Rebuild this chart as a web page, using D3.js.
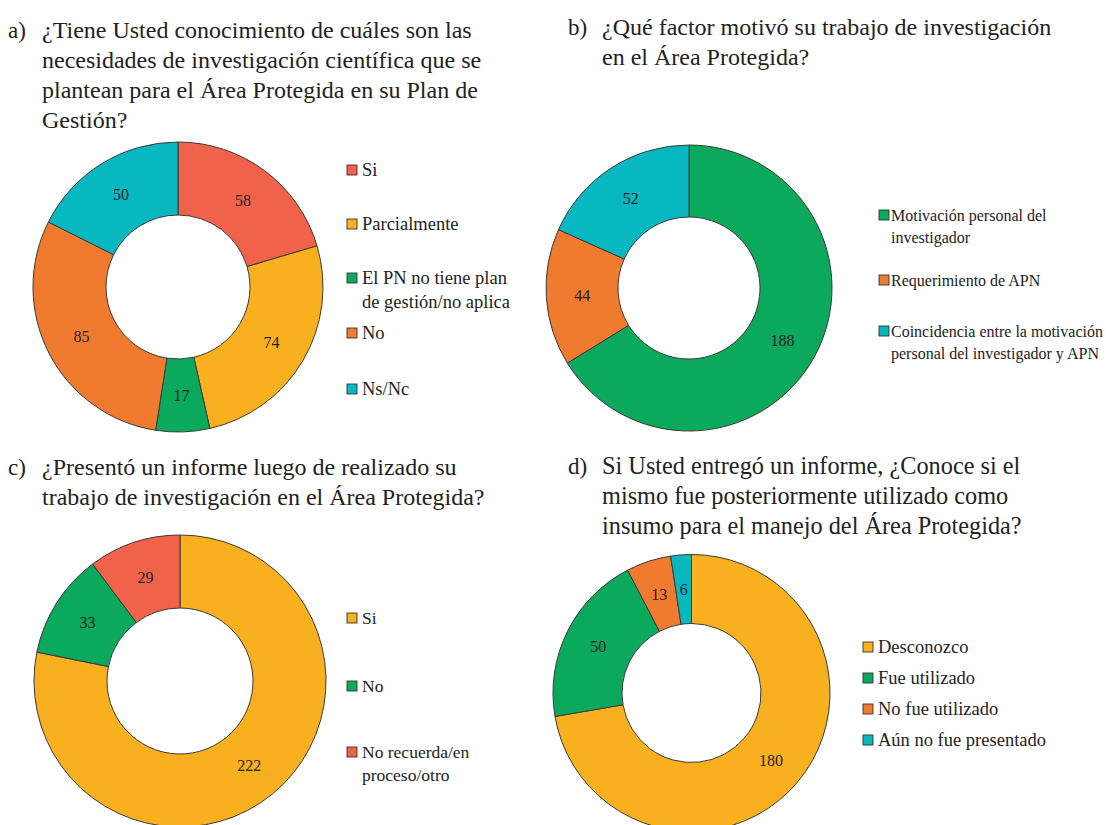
<!DOCTYPE html>
<html>
<head>
<meta charset="utf-8">
<script src="https://cdn.jsdelivr.net/npm/d3@7"></script>
<style>
  body { margin: 0; background: #fff; }
</style>
</head>
<body>
<div id="chart"></div>
<script>
// data
const catsA = ["Si", "Parcialmente", "El PN no tiene plan\nde gestión/no aplica", "No", "Ns/Nc"];
const valsA = [58, 74, 17, 85, 50];
const catsB = ["Motivación personal del\ninvestigador", "Requerimiento de APN", "Coincidencia entre la motivación\npersonal del investigador y APN"];
const valsB = [188, 44, 52];
const catsC = ["Si", "No", "No recuerda/en\nproceso/otro"];
const valsC = [222, 33, 29];
const catsD = ["Desconozco", "Fue utilizado", "No fue utilizado", "Aún no fue presentado"];
const valsD = [180, 50, 13, 6];

const titleA = ["¿Tiene Usted conocimiento de cuáles son las", "necesidades de investigación científica que se", "plantean para el Área Protegida en su Plan de", "Gestión?"];
const titleB = ["¿Qué factor motivó su trabajo de investigación", "en el Área Protegida?"];
const titleC = ["¿Presentó un informe luego de realizado su", "trabajo de investigación en el Área Protegida?"];
const titleD = ["Si Usted entregó un informe, ¿Conoce si el", "mismo fue posteriormente utilizado como", "insumo para el manejo del Área Protegida?"];

// colours
const red = "#f0624a", yellow = "#f9b01e", green = "#0aa95b", orange = "#f07b2e", cyan = "#08b8c0";
const serif = "'Liberation Serif', Tinos, 'Times New Roman', 'DejaVu Serif', serif";

const W = 1106, H = 825;
const svg = d3.select("#chart").append("svg")
    .attr("width", W)
    .attr("height", H)
    .attr("font-family", serif)
    .style("font-family", serif);

// layout of each panel (legend rows given as y positions)
const panels = [
    { letter: "a)", title: titleA, tx: 8, ty: 38, tsize: 24, cats: catsA, vals: valsA, colors: [red, yellow, green, orange, cyan],
      cx: 178, cy: 287, r: 145, ir: 72, lx: 347, lgap: 15, lys: [170, 224, 278, 333, 389], lline: 24, lsize: 18.5 },
    { letter: "b)", title: titleB, tx: 568, ty: 35, tsize: 24, cats: catsB, vals: valsB, colors: [green, orange, cyan],
      cx: 689, cy: 288, r: 143, ir: 71, lx: 879, lgap: 12, lys: [215, 280, 331], lline: 22, lsize: 16 },
    { letter: "c)", title: titleC, tx: 8, ty: 475, tsize: 24, cats: catsC, vals: valsC, colors: [yellow, green, red],
      cx: 180, cy: 681, r: 146, ir: 73, lx: 347, lgap: 15, lys: [618, 686, 752], lline: 23, lsize: 17.5 },
    { letter: "d)", title: titleD, tx: 568, ty: 474, tsize: 24.3, cats: catsD, vals: valsD, colors: [yellow, green, orange, cyan],
      cx: 691.5, cy: 693, r: 138.5, ir: 69.5, lx: 863, lgap: 15, lys: [647, 678, 709, 740], lline: 22, lsize: 18.5 }
];

const pie = d3.pie().sort(null).value(d => d);

panels.forEach(p => {
    const g = svg.append("g");

    // title
    g.append("text")
        .attr("x", p.tx).attr("y", p.ty)
        .attr("font-size", 23)
        .attr("fill", "#222")
        .text(p.letter);
    g.append("text")
        .attr("x", p.tx + 34).attr("y", p.ty)
        .attr("font-size", p.tsize)
        .attr("fill", "#222")
        .selectAll("tspan")
        .data(p.title)
        .enter().append("tspan")
        .attr("x", p.tx + 34)
        .attr("dy", (d, i) => i === 0 ? 0 : 30)
        .text(d => d);

    // donut
    const color = d3.scaleOrdinal().domain(d3.range(p.vals.length)).range(p.colors);
    const arc = d3.arc().innerRadius(p.ir).outerRadius(p.r);
    const arcs = pie(p.vals);
    const dg = g.append("g").attr("transform", `translate(${p.cx},${p.cy})`);
    dg.selectAll("path")
        .data(arcs)
        .enter().append("path")
        .attr("d", arc)
        .attr("fill", (d, i) => color(i))
        .attr("stroke", "#3a3a3a")
        .attr("stroke-width", 1);
    dg.selectAll("text")
        .data(arcs)
        .enter().append("text")
        .attr("transform", d => `translate(${arc.centroid(d)})`)
        .attr("text-anchor", "middle")
        .attr("dy", "0.35em")
        .attr("font-size", 16)
        .attr("fill", "#222")
        .text(d => d.data);

    // legend
    const lg = g.append("g");
    p.cats.forEach((c, i) => {
        const lines = c.split("\n");
        const y = p.lys[i];
        lg.append("rect")
            .attr("x", p.lx).attr("y", y - 5)
            .attr("width", 10).attr("height", 10)
            .attr("fill", color(i))
            .attr("stroke", "#333")
            .attr("stroke-width", 0.9);
        lg.append("text")
            .attr("x", p.lx + p.lgap).attr("y", y)
            .attr("font-size", p.lsize)
            .attr("fill", "#222")
            .selectAll("tspan")
            .data(lines)
            .enter().append("tspan")
            .attr("x", p.lx + p.lgap)
            .attr("dy", (d, j) => j === 0 ? "0.35em" : p.lline)
            .text(d => d);
    });
});
</script>
</body>
</html>
